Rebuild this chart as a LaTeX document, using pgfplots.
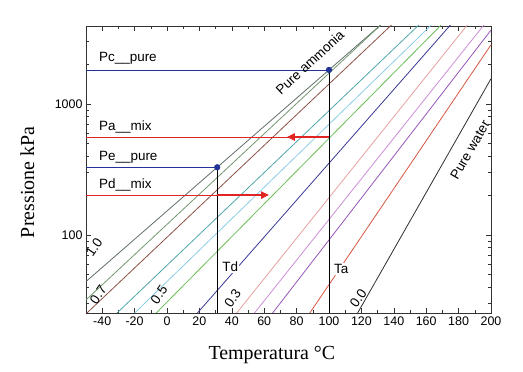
\documentclass[border=0pt]{standalone}
\usepackage{pgfplots}
\pgfplotsset{compat=1.18}
\usepackage{fontspec}
\setmainfont{Liberation Serif}
\setsansfont{Liberation Sans}
\usetikzlibrary{arrows.meta}
\definecolor{c1}{RGB}{95,110,105}
\definecolor{c2}{RGB}{115,150,115}
\definecolor{c3}{RGB}{140,80,70}
\definecolor{c4}{RGB}{80,165,170}
\definecolor{c5}{RGB}{140,205,230}
\definecolor{c6}{RGB}{105,190,85}
\definecolor{c7}{RGB}{55,55,150}
\definecolor{c8}{RGB}{230,160,160}
\definecolor{c9}{RGB}{205,140,215}
\definecolor{c10}{RGB}{150,85,185}
\definecolor{c11}{RGB}{215,85,65}
\definecolor{c12}{RGB}{45,45,45}
\definecolor{pblue}{RGB}{35,50,150}
\definecolor{pred}{RGB}{225,35,35}
\begin{document}
\begin{tikzpicture}
\useasboundingbox (-86bp,-59bp) rectangle (437bp,313bp);
\begin{axis}[
  scale only axis,
  width=405bp, height=287bp,
  ymode=log,
  xmin=-50, xmax=200,
  ymin=25.4, ymax=3940,
  xtick={-40,-20,...,200},
  minor x tick num=1,
  ytick={100,1000},
  yticklabels={100,1000},
  minor ytick={30,40,50,60,70,80,90,200,300,400,500,600,700,800,900,2000,3000},
  major tick length=5pt,
  minor tick length=3pt,
  tick style={black!80, line width=0.6pt},
  axis line style={black!80, line width=0.8pt},
  /pgf/number format/assume math mode=true,
  ticklabel style={font=\sffamily\fontsize{12.5}{14}\selectfont},
  xlabel={Temperatura °C},
  ylabel={Pressione kPa},
  label style={font=\fontsize{20}{22}\selectfont},
  xlabel style={at={(axis description cs:0.459,-0.146)}, anchor=center},
  ylabel style={at={(axis description cs:-0.145,0.455)}, anchor=center},
  every axis plot/.append style={line width=0.8pt},
]
% composition lines
\addplot[c1] coordinates {(-60,34.45) (31,329) (100,1820) (140,4907)};
\addplot[c2] coordinates {(-60,24.5) (140,4966)};
\addplot[c3] coordinates {(-60,19.1) (150,5458)};
\addplot[c4] coordinates {(-60,11.5) (160,4538)};
\addplot[c5] coordinates {(-40,14.6) (170,4842)};
\addplot[c6] coordinates {(-20,17.3) (180,5465)};
\addplot[c7] coordinates {(10,19.1) (190,6530)};
\addplot[c8] coordinates {(30,16.0) (200,6745)};
\addplot[c9] coordinates {(40,15.4) (200,4690)};
\addplot[c10] coordinates {(50,14.5) (200,3664)};
\addplot[c11] coordinates {(80,18.0) (200,2831)};
\addplot[c12] coordinates {(110,17.3) (200,1560)};
% construction lines
\addplot[pblue] coordinates {(-50,1820) (100,1820)};
\addplot[pblue] coordinates {(-50,329) (31,329)};
\addplot[pred] coordinates {(-50,560) (100,560)};
\addplot[pred] coordinates {(-50,202) (31,202)};
\addplot[black, line width=0.9pt] coordinates {(100,25.4) (100,1820)};
\addplot[black, line width=0.9pt] coordinates {(31,25.4) (31,329)};
\addplot[pred, line width=2.6pt, -{Triangle[length=8pt,width=7pt]}] coordinates {(100,560) (74,560)};
\addplot[pred, line width=2.6pt, -{Triangle[length=8pt,width=7pt]}] coordinates {(31,202) (63,202)};
\addplot[pblue, only marks, mark=*, mark size=2.7pt] coordinates {(100,1820) (31,329)};
% labels
\begin{scope}[font=\sffamily\fontsize{13.5}{15}\selectfont]
\node[anchor=west, inner sep=0pt] at (axis cs:-42,2244) {Pc\_\_pure};
\node[anchor=west, inner sep=0pt] at (axis cs:-42,667) {Pa\_\_mix};
\node[anchor=west, inner sep=0pt] at (axis cs:-42,394) {Pe\_\_pure};
\node[anchor=west, inner sep=0pt] at (axis cs:-42,241) {Pd\_\_mix};
\node[anchor=west, fill=white, inner sep=1pt] at (axis cs:33.5,57) {Td};
\node[anchor=west, fill=white, inner sep=1pt] at (axis cs:102.4,55) {Ta};
\node[rotate=55] at (axis cs:-45,81) {1.0};
\node[rotate=55] at (axis cs:-42.5,35) {0.7};
\node[rotate=55] at (axis cs:-5,35) {0.5};
\node[rotate=55] at (axis cs:40.5,33) {0.3};
\node[rotate=55] at (axis cs:118,33) {0.0};
\node[rotate=43, inner sep=0pt] at (axis cs:88.2,2075) {Pure ammonia};
\node[rotate=60, inner sep=0pt] at (axis cs:187,446) {Pure water};
\end{scope}
\end{axis}
\end{tikzpicture}
\end{document}
